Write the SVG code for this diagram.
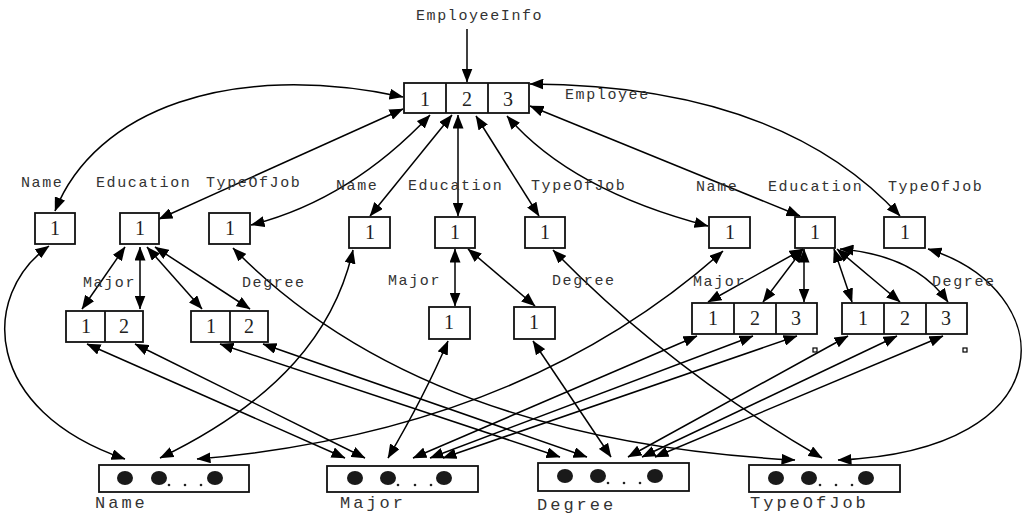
<svg xmlns="http://www.w3.org/2000/svg" width="1022" height="515" viewBox="0 0 1022 515">
<style>
.box{fill:#fff;stroke:#111;stroke-width:1.8}
.dv{stroke:#111;stroke-width:1.8}
.num{font-family:"Liberation Serif",serif;font-size:20px;fill:#222;text-anchor:middle}
.lb{font-family:"Liberation Mono",monospace;font-size:15px;letter-spacing:1.6px;fill:#333}
.bl{font-family:"Liberation Mono",monospace;font-size:17px;letter-spacing:3px;fill:#333}
.c path{fill:none;stroke:#000;stroke-width:1.5;marker-end:url(#ah);marker-start:url(#ah)}
.c path.s{marker-start:none}
.el{fill:#1a1a1a}
.dot{fill:#222}
</style>
<defs>
<marker id="ah" viewBox="0 0 14 11" refX="13.5" refY="5.5" markerWidth="14" markerHeight="11" markerUnits="userSpaceOnUse" orient="auto-start-reverse"><path d="M0,0 L14,5.5 L0,11 z" fill="#000"/></marker>
</defs>
<rect width="1022" height="515" fill="#fff"/>

<g class="c" id="connectors">
<path class="s" d="M467,29 L467,82"/>
<path d="M55,211 C95,110 230,60 403,97"/>
<path d="M159,219 L403,109"/>
<path d="M251,225 Q350,200 430,115"/>
<path d="M370,216 L452,115"/>
<path d="M458,216 L458,115"/>
<path d="M539,216 L476,116"/>
<path d="M708,226 Q570,190 507,116"/>
<path d="M800,216 L530,106"/>
<path d="M900,216 Q780,85 530,84"/>
<path d="M125,247 L82,309"/>
<path d="M140,247 L140,309"/>
<path d="M147,247 L202,309"/>
<path d="M155,247 L250,309"/>
<path d="M455,249 L455,306"/>
<path d="M468,249 L535,306"/>
<path d="M803,249 L708,302"/>
<path d="M803,249 L763,302"/>
<path d="M804,249 L804,302"/>
<path d="M834,249 L852,302"/>
<path d="M837,249 L900,302"/>
<path d="M840,249 Q915,255 948,302"/>
<path d="M49,246 C-20,295 -18,410 125,459"/>
<path d="M353,250 C335,330 280,400 160,458"/>
<path d="M723,251 Q520,432 197,459"/>
<path d="M87,344 L345,458"/>
<path d="M135,344 L365,458"/>
<path d="M448,341 Q425,395 388,458"/>
<path d="M697,336 L413,458"/>
<path d="M753,336 L430,458"/>
<path d="M797,336 L443,458"/>
<path d="M220,344 L560,457"/>
<path d="M263,344 L587,457"/>
<path d="M533,341 L611,457"/>
<path d="M848,336 L628,457"/>
<path d="M897,336 L642,457"/>
<path d="M943,336 L655,457"/>
<path d="M233,248 Q420,440 795,460"/>
<path d="M553,250 Q670,370 822,458"/>
<path d="M928,249 C1060,290 1070,450 838,460"/>
</g>

<g id="employeeinfo-label"><text class="lb" x="416" y="20">EmployeeInfo</text></g>

<g id="employee">
<rect class="box" x="404" y="83" width="125" height="30"/>
<line class="dv" x1="446" y1="83" x2="446" y2="113"/>
<line class="dv" x1="488" y1="83" x2="488" y2="113"/>
<text class="num" x="425" y="106">1</text>
<text class="num" x="467" y="106">2</text>
<text class="num" x="508" y="106">3</text>
<text class="lb" x="565" y="99">Employee</text>
</g>

<g id="name-a"><text class="lb" x="21" y="187">Name</text><rect class="box" x="35" y="213" width="40" height="31"/><text class="num" x="55" y="235">1</text></g>
<g id="education-a"><text class="lb" x="96" y="187">Education</text><rect class="box" x="120" y="213" width="39" height="31"/><text class="num" x="140" y="235">1</text></g>
<g id="typeofjob-a"><text class="lb" x="206" y="187">TypeOfJob</text><rect class="box" x="209" y="213" width="41" height="31"/><text class="num" x="230" y="235">1</text></g>

<g id="name-b"><text class="lb" x="336" y="190">Name</text><rect class="box" x="349" y="217" width="41" height="31"/><text class="num" x="370" y="239">1</text></g>
<g id="education-b"><text class="lb" x="408" y="190">Education</text><rect class="box" x="435" y="217" width="40" height="31"/><text class="num" x="455" y="239">1</text></g>
<g id="typeofjob-b"><text class="lb" x="531" y="190">TypeOfJob</text><rect class="box" x="525" y="217" width="40" height="31"/><text class="num" x="545" y="239">1</text></g>

<g id="name-c"><text class="lb" x="696" y="191">Name</text><rect class="box" x="709" y="217" width="41" height="31"/><text class="num" x="730" y="239">1</text></g>
<g id="education-c"><text class="lb" x="768" y="191">Education</text><rect class="box" x="795" y="217" width="40" height="31"/><text class="num" x="815" y="239">1</text></g>
<g id="typeofjob-c"><text class="lb" x="888" y="191">TypeOfJob</text><rect class="box" x="884" y="217" width="41" height="31"/><text class="num" x="905" y="239">1</text></g>

<g id="major-a"><text class="lb" x="83" y="287">Major</text>
<rect class="box" x="66" y="311" width="77" height="31"/><line class="dv" x1="105" y1="311" x2="105" y2="342"/>
<text class="num" x="86" y="333">1</text><text class="num" x="124" y="333">2</text></g>
<g id="degree-a"><text class="lb" x="242" y="287">Degree</text>
<rect class="box" x="191" y="311" width="77" height="31"/><line class="dv" x1="230" y1="311" x2="230" y2="342"/>
<text class="num" x="211" y="333">1</text><text class="num" x="249" y="333">2</text></g>

<g id="major-b"><text class="lb" x="388" y="285">Major</text>
<rect class="box" x="429" y="307" width="41" height="32"/><text class="num" x="449" y="329">1</text></g>
<g id="degree-b"><text class="lb" x="552" y="285">Degree</text>
<rect class="box" x="514" y="307" width="41" height="32"/><text class="num" x="534" y="329">1</text></g>

<g id="major-c"><text class="lb" x="693" y="286">Major</text>
<rect class="box" x="692" y="303" width="125" height="31"/>
<line class="dv" x1="734" y1="303" x2="734" y2="334"/><line class="dv" x1="776" y1="303" x2="776" y2="334"/>
<text class="num" x="713" y="325">1</text><text class="num" x="755" y="325">2</text><text class="num" x="796" y="325">3</text>
<rect x="813" y="348" width="4" height="4" fill="#fff" stroke="#000" stroke-width="1.2"/></g>
<g id="degree-c"><text class="lb" x="932" y="286">Degree</text>
<rect class="box" x="842" y="303" width="125" height="31"/>
<line class="dv" x1="884" y1="303" x2="884" y2="334"/><line class="dv" x1="926" y1="303" x2="926" y2="334"/>
<text class="num" x="863" y="325">1</text><text class="num" x="905" y="325">2</text><text class="num" x="946" y="325">3</text>
<rect x="963" y="348" width="4" height="4" fill="#fff" stroke="#000" stroke-width="1.2"/></g>

<g id="name-set">
<rect class="box" x="99" y="465" width="150" height="27"/>
<ellipse class="el" cx="125" cy="478" rx="8" ry="7"/><ellipse class="el" cx="159" cy="478" rx="8" ry="7"/><ellipse class="el" cx="215" cy="478" rx="8" ry="7"/>
<circle class="dot" cx="169" cy="485" r="1.3"/><circle class="dot" cx="185" cy="485" r="1.3"/><circle class="dot" cx="201" cy="485" r="1.3"/>
<text class="bl" x="95" y="508">Name</text></g>

<g id="major-set">
<rect class="box" x="327" y="466" width="151" height="26"/>
<ellipse class="el" cx="355" cy="478" rx="8" ry="7"/><ellipse class="el" cx="388" cy="478" rx="8" ry="7"/><ellipse class="el" cx="444" cy="478" rx="8" ry="7"/>
<circle class="dot" cx="398" cy="485" r="1.3"/><circle class="dot" cx="415" cy="485" r="1.3"/><circle class="dot" cx="431" cy="485" r="1.3"/>
<text class="bl" x="340" y="508">Major</text></g>

<g id="degree-set">
<rect class="box" x="538" y="463" width="151" height="28"/>
<ellipse class="el" cx="565" cy="476" rx="8" ry="7"/><ellipse class="el" cx="598" cy="476" rx="8" ry="7"/><ellipse class="el" cx="655" cy="476" rx="8" ry="7"/>
<circle class="dot" cx="608" cy="483" r="1.3"/><circle class="dot" cx="624" cy="483" r="1.3"/><circle class="dot" cx="640" cy="483" r="1.3"/>
<text class="bl" x="537" y="510">Degree</text></g>

<g id="typeofjob-set">
<rect class="box" x="749" y="465" width="151" height="27"/>
<ellipse class="el" cx="776" cy="478" rx="8" ry="7"/><ellipse class="el" cx="809" cy="478" rx="8" ry="7"/><ellipse class="el" cx="866" cy="478" rx="8" ry="7"/>
<circle class="dot" cx="820" cy="485" r="1.3"/><circle class="dot" cx="836" cy="485" r="1.3"/><circle class="dot" cx="852" cy="485" r="1.3"/>
<text class="bl" x="750" y="508">TypeOfJob</text></g>
</svg>
